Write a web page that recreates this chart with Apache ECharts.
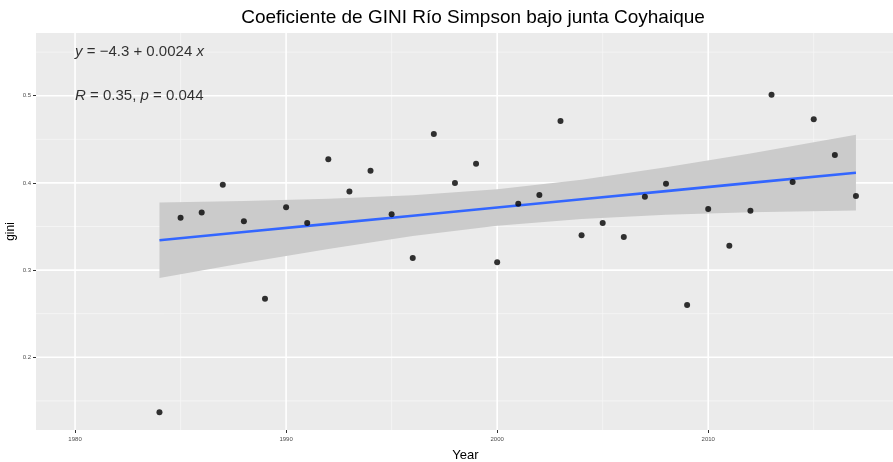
<!DOCTYPE html>
<html>
<head>
<meta charset="utf-8">
<script src="https://cdn.jsdelivr.net/npm/echarts@6/dist/echarts.min.js"></script>
<style>
  html, body { margin: 0; padding: 0; background: #ffffff; }
  #chart { width: 893px; height: 462px; }
</style>
</head>
<body>
<div id="chart"></div>
<script>
// ---- data ----
const years = [1984, 1985, 1986, 1987, 1988, 1989, 1990, 1991, 1992, 1993, 1994, 1995, 1996, 1997, 1998, 1999, 2000,
               2001, 2002, 2003, 2004, 2005, 2006, 2007, 2008, 2009, 2010, 2011, 2012, 2013, 2014, 2015, 2016, 2017];
const gini = [0.137, 0.360, 0.366, 0.398, 0.356, 0.267, 0.372, 0.354, 0.427, 0.390, 0.414, 0.364, 0.314, 0.456, 0.400, 0.422, 0.309,
              0.376, 0.386, 0.471, 0.340, 0.354, 0.338, 0.384, 0.399, 0.260, 0.370, 0.328, 0.368, 0.501, 0.401, 0.473, 0.432, 0.385];

// fitted line and 95% confidence band
const fitYears = [1984, 1988, 1992, 1996, 2000, 2004, 2008, 2012, 2017];
const fitValues = [0.3342, 0.3436, 0.3530, 0.3624, 0.3718, 0.3812, 0.3906, 0.4000, 0.4117];
const bandLower = [0.2908, 0.3080, 0.3243, 0.3390, 0.3508, 0.3587, 0.3634, 0.3662, 0.3683];
const bandUpper = [0.3776, 0.3792, 0.3817, 0.3858, 0.3928, 0.4037, 0.4178, 0.4338, 0.4551];

// axis ticks and grid lines
const xTicks = [1980, 1990, 2000, 2010];
const xMinor = [1985, 1995, 2005, 2015];
const yTicks = [0.2, 0.3, 0.4, 0.5];
const yTickLabels = ['0.2', '0.3', '0.4', '0.5'];
const yMinor = [0.15, 0.25, 0.35, 0.45, 0.55];
const xRange = [1978.15, 2018.85];
const yRange = [0.1166, 0.5719];

// annotation texts (placed at data coordinates)
const annotations = [
  { x: 1980, y: 0.55, text: '{i|y} = \u22124.3 + 0.0024 {i|x}' },
  { x: 1980, y: 0.50, text: '{i|R} = 0.35, {i|p} = 0.044' }
];

const FONT = '"Liberation Sans", Arial, Helvetica, sans-serif';

// grid line items: [x, y, orientation(0 vertical / 1 horizontal), major(1)/minor(0)]
const midX = (xRange[0] + xRange[1]) / 2, midY = (yRange[0] + yRange[1]) / 2;
const gridItems = [];
xMinor.forEach(v => gridItems.push([v, midY, 0, 0]));
yMinor.forEach(v => gridItems.push([midX, v, 1, 0]));
xTicks.forEach(v => gridItems.push([v, midY, 0, 1]));
yTicks.forEach(v => gridItems.push([midX, v, 1, 1]));

const chart = echarts.init(document.getElementById('chart'), null, { renderer: 'canvas' });

chart.setOption({
  animation: false,
  backgroundColor: '#ffffff',
  title: {
    text: 'Coeficiente de GINI Río Simpson bajo junta Coyhaique',
    left: 468,
    top: 3,
    textAlign: 'center',
    textStyle: { fontFamily: FONT, fontSize: 19, fontWeight: 'normal', color: '#000000' }
  },
  grid: {
    left: 36, right: -2, top: 33, bottom: 32,
    show: true, backgroundColor: '#EBEBEB', borderWidth: 0,
    containLabel: false,
    outerBoundsMode: 'none'
  },
  xAxis: {
    type: 'value',
    min: xRange[0], max: xRange[1],
    name: 'Year', nameLocation: 'middle', nameGap: 19, nameMoveOverlap: false,
    nameTextStyle: { fontFamily: FONT, fontSize: 13, color: '#000000' },
    axisLine: { show: false },
    axisTick: { show: true, length: 3, customValues: xTicks, lineStyle: { color: '#333333', width: 1 } },
    axisLabel: { customValues: xTicks, fontFamily: FONT, fontSize: 6, color: '#4D4D4D', margin: 6,
                 formatter: v => String(v) },
    splitLine: { show: false }
  },
  yAxis: {
    type: 'value',
    min: yRange[0], max: yRange[1],
    name: 'gini', nameLocation: 'middle', nameGap: 19, nameRotate: 90, nameMoveOverlap: false,
    nameTextStyle: { fontFamily: FONT, fontSize: 12, color: '#000000' },
    axisLine: { show: false },
    axisTick: { show: true, length: 3, customValues: yTicks, lineStyle: { color: '#333333', width: 1 } },
    axisLabel: { customValues: yTicks, fontFamily: FONT, fontSize: 6, color: '#4D4D4D', margin: 5,
                 formatter: v => { const i = yTicks.findIndex(t => Math.abs(t - v) < 1e-6); return i >= 0 ? yTickLabels[i] : ''; } },
    splitLine: { show: false }
  },
  series: [
    {
      name: 'gridlines',
      type: 'custom',
      z: 1,
      silent: true,
      clip: false,
      data: gridItems,
      encode: { x: 0, y: 1 },
      renderItem: function (params, api) {
        const cs = params.coordSys;
        const p = api.coord([api.value(0), api.value(1)]);
        const major = api.value(3) === 1;
        let shape;
        if (api.value(2) === 0) {
          shape = { x1: p[0], y1: cs.y, x2: p[0], y2: cs.y + cs.height };
        } else {
          shape = { x1: cs.x, y1: p[1], x2: cs.x + cs.width, y2: p[1] };
        }
        return {
          type: 'line',
          shape: shape,
          style: { stroke: major ? '#FFFFFF' : '#F6F6F6', lineWidth: major ? 1.6 : 0.8 }
        };
      }
    },
    {
      name: 'band',
      type: 'custom',
      z: 2,
      silent: true,
      data: [[fitYears[0], fitValues[0]]],
      renderItem: function (params, api) {
        const pts = [];
        for (let i = 0; i < fitYears.length; i++) pts.push(api.coord([fitYears[i], bandUpper[i]]));
        for (let i = fitYears.length - 1; i >= 0; i--) pts.push(api.coord([fitYears[i], bandLower[i]]));
        return { type: 'polygon', shape: { points: pts }, style: { fill: '#CBCBCB', stroke: null } };
      }
    },
    {
      name: 'fit',
      type: 'line',
      z: 3,
      silent: true,
      symbol: 'none',
      data: fitYears.map((y, i) => [y, fitValues[i]]),
      lineStyle: { color: '#3366FF', width: 2.6 }
    },
    {
      name: 'gini',
      type: 'scatter',
      z: 4,
      symbol: 'circle',
      symbolSize: 6,
      itemStyle: { color: '#000000' },
      data: years.map((y, i) => [y, gini[i]])
    },
    {
      name: 'annotations',
      type: 'scatter',
      z: 5,
      silent: true,
      symbolSize: 0,
      data: annotations.map(a => ({ value: [a.x, a.y], text: a.text })),
      label: {
        show: true,
        position: 'right',
        distance: 0,
        formatter: p => p.data.text,
        fontFamily: FONT,
        fontSize: 15,
        color: '#000000',
        rich: { i: { fontFamily: FONT, fontSize: 15, fontStyle: 'italic', color: '#000000' } }
      }
    }
  ]
});
</script>
</body>
</html>
